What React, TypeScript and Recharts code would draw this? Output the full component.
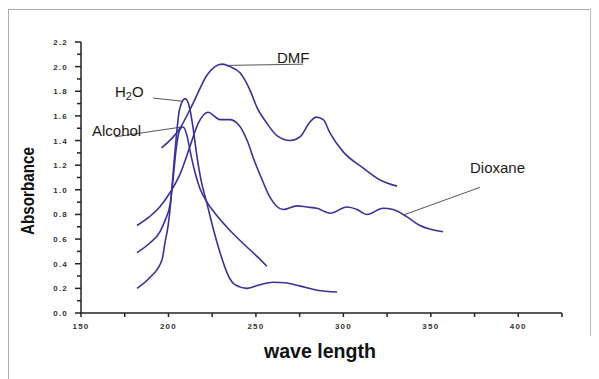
import { LineChart, Line, XAxis, YAxis, ReferenceLine } from 'recharts'

// wavelength (nm) / absorbance
const dmfWl = [196, 206.6, 214, 222, 226.6, 230.6, 235.2, 240.9, 246.6, 250.6, 256.3, 262, 269.5, 275.2, 280.9, 284.5, 288.5, 292.4, 299.8, 311, 321, 330.7]
const dmfAbs = [1.34, 1.5, 1.7, 1.93, 2.0, 2.02, 2.0, 1.95, 1.81, 1.67, 1.54, 1.44, 1.4, 1.43, 1.55, 1.59, 1.57, 1.46, 1.31, 1.18, 1.08, 1.03]

const dioxaneWl = [182, 189, 195, 201, 207, 212, 217, 222.6, 229.5, 235, 240, 245, 249, 253, 258, 265.5, 273.5, 279.2, 284.9, 292.4, 302.1, 307.8, 313.5, 322.7, 328.4, 336.4, 343.8, 357]
const dioxaneAbs = [0.71, 0.78, 0.86, 0.98, 1.14, 1.34, 1.54, 1.63, 1.57, 1.57, 1.53, 1.4, 1.24, 1.1, 0.94, 0.84, 0.87, 0.86, 0.85, 0.81, 0.86, 0.84, 0.8, 0.85, 0.84, 0.78, 0.71, 0.66]

const waterWl = [182, 189.5, 196.3, 198, 199.7, 200.9, 202.6, 204.3, 206.3, 209.5, 212, 214, 215.8, 218.6, 222, 225.5, 229.5, 234, 238, 245, 252.3, 259.8, 266.6, 275, 285, 296.4]
const waterAbs = [0.2, 0.29, 0.43, 0.57, 0.7, 0.84, 1.12, 1.4, 1.65, 1.74, 1.67, 1.51, 1.32, 1.08, 0.89, 0.69, 0.49, 0.31, 0.23, 0.2, 0.23, 0.25, 0.245, 0.22, 0.185, 0.17]

const alcoholWl = [182, 189.5, 195.2, 198, 200.9, 202.6, 204.3, 206.6, 208.3, 210.6, 212.3, 215.2, 218, 222, 226.6, 235.2, 243.8, 250.6, 256.3]
const alcoholAbs = [0.49, 0.57, 0.66, 0.75, 0.88, 1.08, 1.32, 1.49, 1.51, 1.44, 1.32, 1.14, 1.01, 0.9, 0.81, 0.67, 0.55, 0.46, 0.38]

const xTicks = [150, 175, 200, 225, 250, 275, 300, 325, 350, 375, 400, 425]
const yTicks = [0, 0.1, 0.2, 0.3, 0.4, 0.5, 0.6, 0.7, 0.8, 0.9, 1.0, 1.1, 1.2, 1.3, 1.4, 1.5, 1.6, 1.7, 1.8, 1.9, 2.0, 2.1, 2.2]

// leader lines from each label to its curve: [wl1, abs1, wl2, abs2]
const leaders = [
  [233.5, 2.01, 277, 2.02],
  [191.2, 1.745, 207.7, 1.72],
  [169.4, 1.43, 207.7, 1.51],
  [378.1, 1.02, 335.2, 0.8],
]

const toRows = (wl: number[], abs: number[]) => wl.map((w, i) => ({ wl: w, a: abs[i] }))

const LINE = '#3a3296'
const NARROW = "'Liberation Sans', Arial, sans-serif"

function XTick(props: any) {
  const { x, y, payload } = props
  const major = payload.value % 50 === 0 && payload.value < 425
  return (
    <g>
      <line x1={x} y1={y} x2={x} y2={y + 4} stroke="#222" strokeWidth={1.5} />
      {major && (
        <text x={x} y={y + 16} textAnchor="middle" fontSize={8} fontWeight="bold" letterSpacing={1.2} fill="#333" fontFamily="Arial, sans-serif">
          {payload.value}
        </text>
      )}
    </g>
  )
}

function YTick(props: any) {
  const { x, y, payload } = props
  const major = Math.round(payload.value * 10) % 2 === 0
  return (
    <g>
      <line x1={x - (major ? 6 : 4)} y1={y} x2={x} y2={y} stroke="#222" strokeWidth={1.5} />
      {major && (
        <text x={x - 13} y={y + 3} textAnchor="end" fontSize={8} fontWeight="bold" letterSpacing={1.2} fill="#333" fontFamily="Arial, sans-serif">
          {payload.value.toFixed(1)}
        </text>
      )}
    </g>
  )
}

export default function App() {
  const series = [
    toRows(dmfWl, dmfAbs),
    toRows(dioxaneWl, dioxaneAbs),
    toRows(waterWl, waterAbs),
    toRows(alcoholWl, alcoholAbs),
  ]
  return (
    <div style={{ position: 'absolute', left: 0, top: 0, width: 599, height: 379, background: '#fff' }}>
      <div style={{ position: 'absolute', left: 8, top: 9, width: 581, height: 326, borderLeft: '1px solid #aaa', borderTop: '1px solid #aaa', borderRight: '1px solid #bbb' }} />
      <div style={{ position: 'absolute', left: 8, top: 335, width: 1, height: 44, background: '#aaa' }} />
      <LineChart width={599} height={379} margin={{ top: 42, right: 37, bottom: 36, left: 21 }} style={{ position: 'absolute', left: 0, top: 0 }}>
        <XAxis
          dataKey="wl"
          type="number"
          domain={[150, 425]}
          ticks={xTicks}
          interval={0}
          height={30}
          stroke="#222"
          strokeWidth={1.5}
          tickSize={0}
          tickMargin={0}
          tickLine={false}
          tick={<XTick />}
          allowDataOverflow
        />
        <YAxis
          type="number"
          domain={[0, 2.2]}
          ticks={yTicks}
          interval={0}
          width={60}
          stroke="#222"
          strokeWidth={1.5}
          tickSize={0}
          tickMargin={0}
          tickLine={false}
          tick={<YTick />}
          allowDataOverflow
        />
        {leaders.map((s, i) => (
          <ReferenceLine
            key={i}
            segment={[{ x: s[0], y: s[1] }, { x: s[2], y: s[3] }]}
            stroke="#555"
            strokeWidth={1}
            ifOverflow="visible"
          />
        ))}
        {series.map((d, i) => (
          <Line
            key={i}
            data={d}
            dataKey="a"
            type="monotone"
            stroke={LINE}
            strokeWidth={1.6}
            dot={false}
            activeDot={false}
            isAnimationActive={false}
          />
        ))}
      </LineChart>
      <svg width={599} height={379} style={{ position: 'absolute', left: 0, top: 0, pointerEvents: 'none' }}>
        <g fontFamily="'Liberation Sans', Arial, sans-serif" fontSize={15} fill="#1a1a1a">
          <text x={277} y={63}>DMF</text>
          <text x={115} y={97}>
            H<tspan fontSize={11} dy={3}>2</tspan><tspan dy={-3}>O</tspan>
          </text>
          <text x={92} y={136}>Alcohol</text>
          <text x={470} y={173}>Dioxane</text>
        </g>
        <text
          x={27}
          y={191}
          transform="rotate(-90, 27, 191)"
          textAnchor="middle"
          dominantBaseline="central"
          fontFamily={NARROW}
          fontWeight="bold"
          fontSize={19}
          fill="#111"
          textLength={88}
          lengthAdjust="spacingAndGlyphs"
        >
          Absorbance
        </text>
        <text
          x={320}
          y={358}
          textAnchor="middle"
          fontFamily={NARROW}
          fontWeight="bold"
          fontSize={20}
          fill="#111"
          textLength={112}
          lengthAdjust="spacingAndGlyphs"
        >
          wave length
        </text>
      </svg>
    </div>
  )
}
